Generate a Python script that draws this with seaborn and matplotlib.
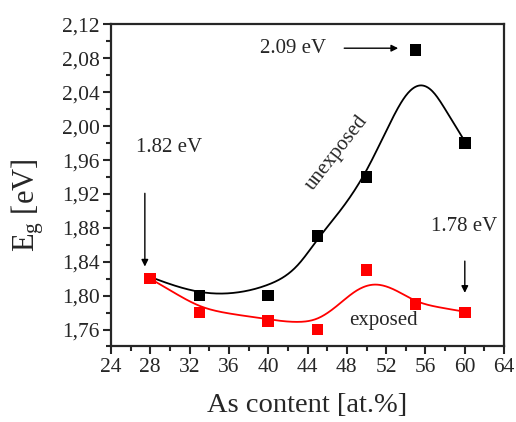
import numpy as np
import pandas as pd
import matplotlib
matplotlib.use("Agg")
import matplotlib.pyplot as plt
import seaborn as sns

# ---- data ----
as_content = [28, 33, 40, 45, 50, 55, 60]
eg_unexposed = [1.82, 1.80, 1.80, 1.87, 1.94, 2.09, 1.98]
eg_exposed = [1.82, 1.78, 1.77, 1.76, 1.83, 1.79, 1.78]

# fitted guide curves
fit_unexp_x = [28, 31, 34, 37, 40, 43, 45, 47.5, 50, 52.5, 54, 55.4, 56.8, 58, 60]
fit_unexp_y = [1.822, 1.810, 1.803, 1.804, 1.813, 1.836, 1.866, 1.903, 1.948, 2.006, 2.036, 2.048, 2.040, 2.020, 1.982]
fit_exp_x = [28, 30.5, 33, 36, 39.5, 43, 45, 47, 49, 50.8, 53, 55, 57.5, 60]
fit_exp_y = [1.820, 1.803, 1.788, 1.779, 1.773, 1.769, 1.773, 1.788, 1.806, 1.813, 1.806, 1.794, 1.786, 1.781]

xticks = [24, 28, 32, 36, 40, 44, 48, 52, 56, 60, 64]
yticks = [1.76, 1.80, 1.84, 1.88, 1.92, 1.96, 2.00, 2.04, 2.08, 2.12]
ytick_labels = ["1,76", "1,80", "1,84", "1,88", "1,92", "1,96", "2,00", "2,04", "2,08", "2,12"]


def natural_spline(xk, yk, n=400):
    xk = np.asarray(xk, float)
    yk = np.asarray(yk, float)
    m = len(xk)
    h = np.diff(xk)
    A = np.zeros((m, m))
    r = np.zeros(m)
    A[0, 0] = 1
    A[-1, -1] = 1
    for i in range(1, m - 1):
        A[i, i - 1] = h[i - 1]
        A[i, i] = 2 * (h[i - 1] + h[i])
        A[i, i + 1] = h[i]
        r[i] = 3 * ((yk[i + 1] - yk[i]) / h[i] - (yk[i] - yk[i - 1]) / h[i - 1])
    c = np.linalg.solve(A, r)
    b = (np.diff(yk) / h) - h * (2 * c[:-1] + c[1:]) / 3
    d = np.diff(c) / (3 * h)
    xs = np.linspace(xk[0], xk[-1], n)
    idx = np.clip(np.searchsorted(xk, xs) - 1, 0, m - 2)
    dx = xs - xk[idx]
    ys = yk[idx] + b[idx] * dx + c[idx] * dx ** 2 + d[idx] * dx ** 3
    return xs, ys


sns.set_style("ticks")
plt.rcParams["font.family"] = ["Liberation Serif", "DejaVu Serif"]
plt.rcParams["mathtext.fontset"] = "custom"
plt.rcParams["mathtext.rm"] = "Liberation Serif"
plt.rcParams["mathtext.it"] = "Liberation Serif:italic"

fig = plt.figure(figsize=(5.16, 4.22), dpi=100)
ax = fig.add_axes([0.215, 0.179, 0.762, 0.763])

xs_u, ys_u = natural_spline(fit_unexp_x, fit_unexp_y)
xs_e, ys_e = natural_spline(fit_exp_x, fit_exp_y)
sns.lineplot(x=xs_u, y=ys_u, ax=ax, color="black", lw=1.3, sort=False)
sns.lineplot(x=xs_e, y=ys_e, ax=ax, color="#ff0000", lw=1.3, sort=False)

sns.scatterplot(x=as_content, y=eg_unexposed, ax=ax, marker="s", s=70,
                color="black", edgecolor="none", zorder=5)
sns.scatterplot(x=as_content, y=eg_exposed, ax=ax, marker="s", s=70,
                color="#ff0000", edgecolor="none", zorder=6)

ax.set_xlim(24, 64)
ax.set_ylim(1.74, 2.12)
ax.set_xticks(xticks)
ax.set_xticklabels([str(t) for t in xticks])
ax.set_yticks(yticks)
ax.set_yticklabels(ytick_labels)
ax.set_xticks(np.arange(26, 64, 4), minor=True)
ax.set_yticks([1.74, 1.78, 1.82, 1.86, 1.90, 1.94, 1.98, 2.02, 2.06, 2.10], minor=True)
ax.tick_params(axis="both", which="major", length=6, width=1.5, direction="out",
               labelsize=15.5, pad=2, top=False, right=False)
ax.tick_params(axis="both", which="minor", length=3.5, width=1.5, direction="out",
               top=False, right=False)
for sp in ax.spines.values():
    sp.set_linewidth(1.6)
    sp.set_visible(True)

ax.set_xlabel("As content [at.%]", fontsize=20.5, labelpad=12)
ax.set_ylabel(r"E$_\mathregular{g}$ [eV]", fontsize=22)
ax.yaxis.set_label_coords(-0.165, 0.44)

fs = 15
ax.text(29.9, 1.975, "1.82 eV", fontsize=fs, ha="center", va="center")
ax.annotate("", xy=(27.45, 1.831), xytext=(27.45, 1.924),
            arrowprops=dict(arrowstyle="-|>", color="black", lw=1.0, mutation_scale=10))
ax.text(42.55, 2.092, "2.09 eV", fontsize=fs, ha="center", va="center")
ax.annotate("", xy=(53.5, 2.092), xytext=(47.45, 2.092),
            arrowprops=dict(arrowstyle="-|>", color="black", lw=1.0, mutation_scale=10))
ax.text(59.9, 1.882, "1.78 eV", fontsize=fs, ha="center", va="center")
ax.annotate("", xy=(60.0, 1.800), xytext=(60.0, 1.844),
            arrowprops=dict(arrowstyle="-|>", color="black", lw=1.0, mutation_scale=10))
ax.text(47.0, 1.969, "unexposed", fontsize=fs, ha="center", va="center",
        rotation=52, rotation_mode="anchor")
ax.text(51.76, 1.771, "exposed", fontsize=fs, ha="center", va="center")

fig.savefig("out.png", dpi=100)
